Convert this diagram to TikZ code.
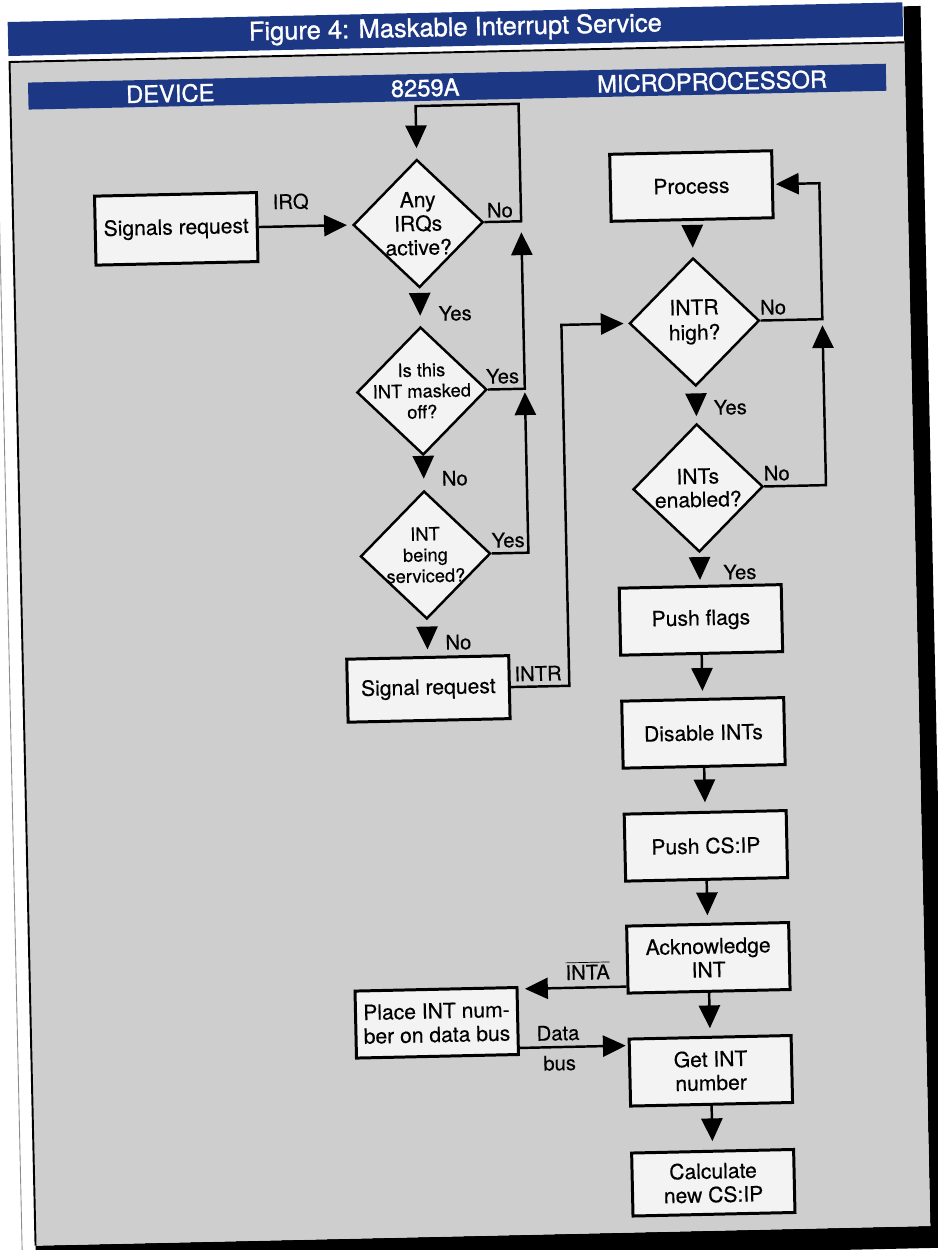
\documentclass[tikz,border=0pt]{standalone}
\usepackage{fontspec}
\setmainfont{TeX Gyre Heros}[FakeBold=0.35]
\newfontfamily\titlefont{TeX Gyre Heros}[FakeBold=1.1]
\usetikzlibrary{arrows.meta,shapes.geometric,calc}
\definecolor{hdrblue}{RGB}{28,56,132}
\definecolor{panelgray}{RGB}{206,206,206}
\definecolor{boxfill}{RGB}{243,243,243}
\begin{document}
\begin{tikzpicture}[x=0.2mm,y=-0.2mm,
  box/.style={draw=black,fill=boxfill,line width=1.7pt,minimum width=32.4mm,minimum height=13.4mm,inner sep=0pt,align=center,font=\fontsize{12}{13.5}\selectfont},
  dia/.style={draw=black,fill=boxfill,line width=1.4pt,diamond,minimum width=26mm,minimum height=25.6mm,inner sep=0pt},
  dtext/.style={align=center,inner sep=0pt,font=\fontsize{12}{13.6}\selectfont},
  dsmall/.style={align=center,inner sep=0pt,font=\fontsize{10.4}{11.9}\selectfont},
  lbl/.style={font=\fontsize{11.5}{13}\selectfont,inner sep=0pt},
  arr/.style={line width=1.4pt,-{Triangle[width=12pt,length=13pt]}},
  hdr/.style={text=white,font=\titlefont\fontsize{13.5}{15}\selectfont,inner sep=0pt},
]
\fill[white] (0,0) rectangle (938,1250);
\useasboundingbox (0,0) rectangle (938,1250);
\begin{scope}[rotate around={1.26:(469,625)},transform shape]
% frame
\draw[black!45,line width=0.5pt] (8.5,0) -- (8.5,1280);
\fill[black] (917,16) rectangle (934,1258);
\fill[black] (22,1236) rectangle (934,1258);
\fill[panelgray] (22,52) rectangle (917,1236);
\draw[line width=1.1pt] (22,1236) -- (22,52) -- (917,52);
\fill[hdrblue] (21,12) rectangle (916,46);
\node[hdr,font=\titlefont\fontsize{14.5}{16}\selectfont] (title) at (468.5,29) {Figure 4: Maskable Interrupt Service};
\fill[hdrblue] (40,73) rectangle (898,100);
\node[hdr] (hdev) at (182,87) {DEVICE};
\node[hdr] (h8259) at (437,87) {8259A};
\node[hdr] (hmp) at (724,87) {MICROPROCESSOR};

% nodes
\node[box,minimum height=13.8mm] (sig) at (185,222.5) {Signals request};
\node[dia,label={[dtext]center:{Any\\IRQs\\active?}}] (d1) at (427,222.5) {};
\node[dia,label={[dsmall]center:{Is this\\INT masked\\off?}}] (d2) at (427,390) {};
\node[dia,label={[dsmall]center:{INT\\being\\serviced?}}] (d3) at (427,554) {};
\node[box,minimum height=12.6mm] (sreq) at (427,688) {Signal request};
\node[box] (proc) at (701,191) {Process};
\node[dia,label={[dtext,font=\fontsize{12}{14.2}\selectfont]center:{INTR\\high?}}] (d4) at (701,327) {};
\node[dia,label={[dtext,font=\fontsize{12}{13.2}\selectfont]center:{INTs\\enabled?}}] (d5) at (701,493) {};
\node[box] (push) at (701,625) {Push flags};
\node[box] (dis) at (701,738) {Disable INTs};
\node[box] (pcs) at (701,851) {Push CS:IP};
\node[box] (ack) at (701,963) {Acknowledge\\INT};
\node[box] (get) at (701,1076) {Get INT\\number};
\node[box,minimum height=12.6mm] (calc) at (701,1188) {Calculate\\new CS:IP};
\node[box] (place) at (428,1022) {Place INT num-\\ber on data bus};

% bend coordinates
\coordinate (l1r) at (530,105);
\coordinate (intr) at (568,0);
\coordinate (pl) at (829,0);
\coordinate (ia) at (0,990);
\coordinate (db) at (0,1049);

% connectors
\draw[arr,shorten >=1mm] (sig.east) -- (d1.west);
\draw[arr,shorten >=2mm] (d1.east) -| (l1r) -| (d1.north);
\draw[arr,shorten >=2.2mm] (d2.east) -| (d1.east -| l1r);
\draw[arr,shorten >=0.7mm] (d3.east) -| (d2.east -| l1r);
\draw[arr,shorten <=1.4mm,shorten >=2mm] (d1.south) -- (d2.north);
\draw[arr,shorten <=0.6mm,shorten >=2.2mm] (d2.south) -- (d3.north);
\draw[arr,shorten <=1.8mm,shorten >=1.3mm] (d3.south) -- (sreq.north);
\draw[arr,shorten >=0.9mm] (sreq.east) -| (intr |- d4.west) -- (d4.west);
\draw[arr,shorten >=0.4mm] (d4.east) -| (pl |- proc.east) -- (proc.east);
\draw[arr,shorten >=1.2mm] (d5.east) -| (pl |- d4.east);
\draw[arr,shorten <=1.1mm,shorten >=1.8mm] (proc.south) -- (d4.north);
\draw[arr,shorten <=1.6mm,shorten >=1.3mm] (d4.south) -- (d5.north);
\draw[arr,shorten <=1.1mm,shorten >=1mm] (d5.south) -- (push.north);
\draw[arr,shorten >=1.4mm] (push.south) -- (dis.north);
\draw[arr,shorten >=1.7mm] (dis.south) -- (pcs.north);
\draw[arr,shorten >=1.5mm] (pcs.south) -- (ack.north);
\draw[arr,shorten >=1.5mm] (ack.south) -- (get.north);
\draw[arr,shorten >=1.7mm] (get.south) -- (calc.north);
\draw[arr,shorten >=1.3mm] (ack.west |- ia) -- (place.east |- ia);
\draw[arr,shorten >=0.4mm] (place.east |- db) -- (get.west |- db);

% labels
\node[lbl] (lirq) at (300,198) {IRQ};
\node[lbl] (lno1) at (509,211) {No};
\node[lbl] (lyes1) at (462,313) {Yes};
\node[lbl] (lyes2) at (508,377) {Yes};
\node[lbl] (lno2) at (458,478) {No};
\node[lbl] (lyes3) at (510,541) {Yes};
\node[lbl] (lno3) at (458,642) {No};
\node[lbl] (lintr) at (537,675) {INTR};
\node[lbl] (lno4) at (780,314) {No};
\node[lbl] (lyes4) at (735,413) {Yes};
\node[lbl] (lno5) at (780,480) {No};
\node[lbl] (lyes5) at (741,578) {Yes};
\node[lbl] (linta) at (580,973) {$\overline{\hbox{INTA}}$};
\node[lbl] (ldata) at (549,1035) {Data};
\node[lbl] (lbus) at (550,1065) {bus};
\end{scope}
\end{tikzpicture}
\end{document}
